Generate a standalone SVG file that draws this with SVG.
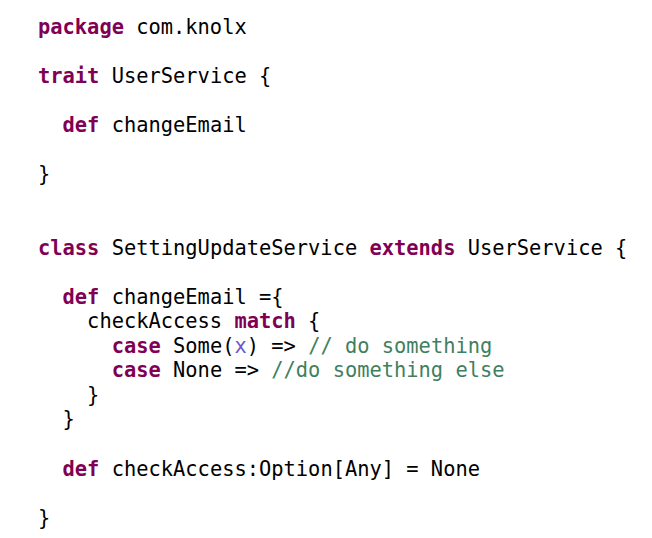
<svg xmlns="http://www.w3.org/2000/svg" width="652" height="538" viewBox="0 0 652 538">
<style>
text{font-family:"DejaVu Sans Mono",monospace;font-size:20.4px;fill:#000;white-space:pre}
.k{fill:#7f0055;font-weight:bold}
.c{fill:#3f7f5f}
.v{fill:#6a5acd}
</style>
<rect width="652" height="538" fill="#fff"/>
<text x="38" y="34" xml:space="preserve"><tspan class="k">package</tspan> com.knolx</text>
<text x="38" y="83" xml:space="preserve"><tspan class="k">trait</tspan> UserService {</text>
<text x="38" y="132" xml:space="preserve">  <tspan class="k">def</tspan> changeEmail</text>
<text x="38" y="181" xml:space="preserve">}</text>
<text x="38" y="255" xml:space="preserve"><tspan class="k">class</tspan> SettingUpdateService <tspan class="k">extends</tspan> UserService {</text>
<text x="38" y="304" xml:space="preserve">  <tspan class="k">def</tspan> changeEmail ={</text>
<text x="38" y="328" xml:space="preserve">    checkAccess <tspan class="k">match</tspan> {</text>
<text x="38" y="353" xml:space="preserve">      <tspan class="k">case</tspan> Some(<tspan class="v">x</tspan>) =&gt; <tspan class="c">// do something</tspan></text>
<text x="38" y="377" xml:space="preserve">      <tspan class="k">case</tspan> None =&gt; <tspan class="c">//do something else</tspan></text>
<text x="38" y="402" xml:space="preserve">    }</text>
<text x="38" y="426" xml:space="preserve">  }</text>
<text x="38" y="476" xml:space="preserve">  <tspan class="k">def</tspan> checkAccess:Option[Any] = None</text>
<text x="38" y="525" xml:space="preserve">}</text>
</svg>
